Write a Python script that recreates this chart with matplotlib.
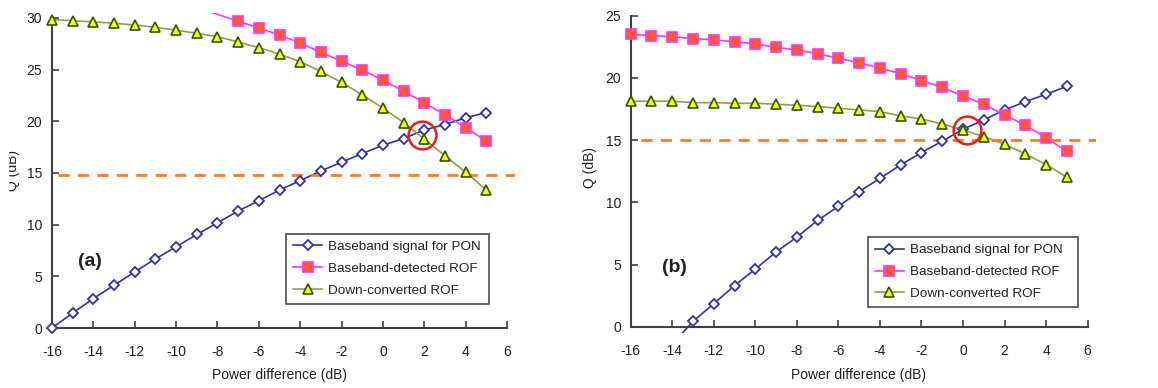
import numpy as np
import matplotlib
matplotlib.use('Agg')
import matplotlib.pyplot as plt
from matplotlib.lines import Line2D
from matplotlib.patches import Rectangle

plt.rcParams['font.family'] = ['Liberation Sans', 'DejaVu Sans']
plt.rcParams['axes.unicode_minus'] = False

# panel (a) data
xa_pon = list(range(-16, 6))
qa_pon = [0.0, 1.45, 2.85, 4.14, 5.43, 6.69, 7.86, 9.05, 10.18, 11.32, 12.32,
          13.35, 14.26, 15.2, 16.04, 16.88, 17.69, 18.33, 19.17, 19.69, 20.34, 20.85]
xa_bb = list(range(-9, 6))
qa_bb = [30.95, 30.35, 29.68, 29.03, 28.35, 27.58, 26.67, 25.83, 24.96, 23.96,
         22.92, 21.79, 20.63, 19.4, 18.07]
xa_dc = list(range(-16, 6))
qa_dc = [29.84, 29.74, 29.62, 29.49, 29.32, 29.1, 28.81, 28.52, 28.19, 27.68, 27.13,
         26.51, 25.77, 24.83, 23.76, 22.57, 21.27, 19.88, 18.27, 16.68, 15.07, 13.35]
qa_limit = 14.8
circle_a = (1.9, 18.7)

# panel (b) data
xb_pon = list(range(-14, 6))
qb_pon = [-1.4, 0.45, 1.87, 3.32, 4.65, 6.02, 7.22, 8.56, 9.68, 10.88, 11.93,
          13.02, 14.01, 14.92, 15.88, 16.63, 17.43, 18.1, 18.69, 19.33]
xb_bb = list(range(-16, 6))
qb_bb = [23.5, 23.4, 23.32, 23.16, 23.07, 22.91, 22.73, 22.46, 22.25, 21.95, 21.58,
         21.23, 20.78, 20.35, 19.79, 19.25, 18.56, 17.89, 17.03, 16.2, 15.19, 14.12]
xb_dc = list(range(-16, 6))
qb_dc = [18.13, 18.13, 18.13, 18.02, 18.02, 17.97, 17.97, 17.89, 17.81, 17.7, 17.57,
         17.43, 17.3, 16.95, 16.71, 16.31, 15.83, 15.29, 14.68, 13.9, 13.05, 12.03]
qb_limit = 15.0
circle_b = (0.18, 15.85)

labels = ['Baseband signal for PON', 'Baseband-detected ROF', 'Down-converted ROF']

BLUE = '#33339f'
MAG = '#ff33ff'
SQ = '#ff5a2a'
OLIVE = '#9a9a48'
TRI_EDGE = '#2a5a00'
ORANGE = '#ff7a22'
AXC = '#404040'
TXT = '#202020'

styles = [
    dict(color=BLUE, marker='D', mfc='white', mec=BLUE, ms=5.5, mew=1.3),
    dict(color=MAG, marker='s', mfc=SQ, mec=MAG, ms=7, mew=1.2),
    dict(color=OLIVE, marker='^', mfc='#ffff00', mec=TRI_EDGE, ms=7.5, mew=1.2),
]

fig = plt.figure(figsize=(11.58, 3.88), dpi=100)
ax_a = fig.add_axes([0.0449, 0.1546, 0.4001, 0.8124])
ax_b = fig.add_axes([0.5446, 0.1428, 0.4018, 0.8167])


def draw(ax, series, ylim, ytop, limit, limit_x0, circle, tag, tag_xy, legend_box, xlab_y):
    for (x, y), st in zip(series, styles):
        x = np.array(x)
        y = np.array(y)
        ax.plot(x, y, color=st['color'], lw=1.2, zorder=2)
        ok = (y >= 0) & (y <= ytop)
        ax.plot(x[ok], y[ok], ls='none', marker=st['marker'], mfc=st['mfc'],
                mec=st['mec'], ms=st['ms'], mew=st['mew'], clip_on=False, zorder=3)
    ax.plot([limit_x0, 6.4], [limit, limit], color=ORANGE, lw=2, ls=(0, (4, 3)), zorder=2.5)
    ax.plot([circle[0]], [circle[1]], marker='o', ms=20, mfc='none', mec='#ee1c1c',
            mew=1.8, ls='none', zorder=4, clip_on=False)
    ax.text(tag_xy[0], tag_xy[1], tag, fontsize=14, fontweight='bold',
            ha='center', va='center', color=TXT)

    ax.set_xlim(-16, 6.4)
    ax.set_ylim(*ylim)
    ax.set_xticks(range(-16, 7, 2))
    ax.set_yticks(range(0, ytop + 1, 5))
    for s in ['top', 'right']:
        ax.spines[s].set_visible(False)
    ax.spines['bottom'].set_position(('data', 0))
    ax.spines['bottom'].set_bounds(-16, 6)
    ax.spines['left'].set_bounds(0, ytop)
    for s in ['bottom', 'left']:
        ax.spines[s].set_color(AXC)
        ax.spines[s].set_linewidth(1.5)
    ax.tick_params(direction='in', length=5, width=1.2, color=AXC,
                   labelsize=10, labelcolor=TXT, pad=7)
    ax.tick_params(axis='x', pad=12)
    ax.set_xlabel('Power difference (dB)', fontsize=10, color=TXT)
    ax.xaxis.set_label_coords(0.49, xlab_y)

    handles = [Line2D([], [], color=st['color'], lw=1.2, marker=st['marker'], mfc=st['mfc'],
                      mec=st['mec'], ms=st['ms'], mew=st['mew']) for st in styles]
    leg = ax.legend(handles, labels, loc='lower left', bbox_to_anchor=legend_box,
                    mode='expand', fontsize=9.7, frameon=True, fancybox=False,
                    handlelength=2.2, handletextpad=0.4, borderpad=0.5,
                    labelspacing=0.7, borderaxespad=0)
    leg.get_frame().set_edgecolor(TXT)
    leg.get_frame().set_linewidth(1.2)
    for t in leg.get_texts():
        t.set_color(TXT)


draw(ax_a, [(xa_pon, qa_pon), (xa_bb, qa_bb), (xa_dc, qa_dc)], (0, 30.5), 30,
     qa_limit, -15.7, circle_a, '(a)', (-14.15, 6.4), (0.505, 0.0774, 0.438, 0.0), -0.128)
draw(ax_b, [(xb_pon, qb_pon), (xb_bb, qb_bb), (xb_dc, qb_dc)], (-0.45, 25), 25,
     qb_limit, -15.5, circle_b, '(b)', (-13.9, 4.75), (0.510, 0.081, 0.451, 0.0), -0.113)

ax_a.set_ylabel('Q (dB)', fontsize=10, color=TXT)
ax_a.yaxis.set_label_coords(-0.069, 0.5)
ax_b.set_ylabel('Q (dB)', fontsize=10, color=TXT)
ax_b.yaxis.set_label_coords(-0.072, 0.52)

# the left edge of the original picture is cut through the first axis title
fig.patches.append(Rectangle((0, 0), 8 / 1158, 1, transform=fig.transFigure,
                             color='white', zorder=10))

fig.savefig('out.png', dpi=100)
